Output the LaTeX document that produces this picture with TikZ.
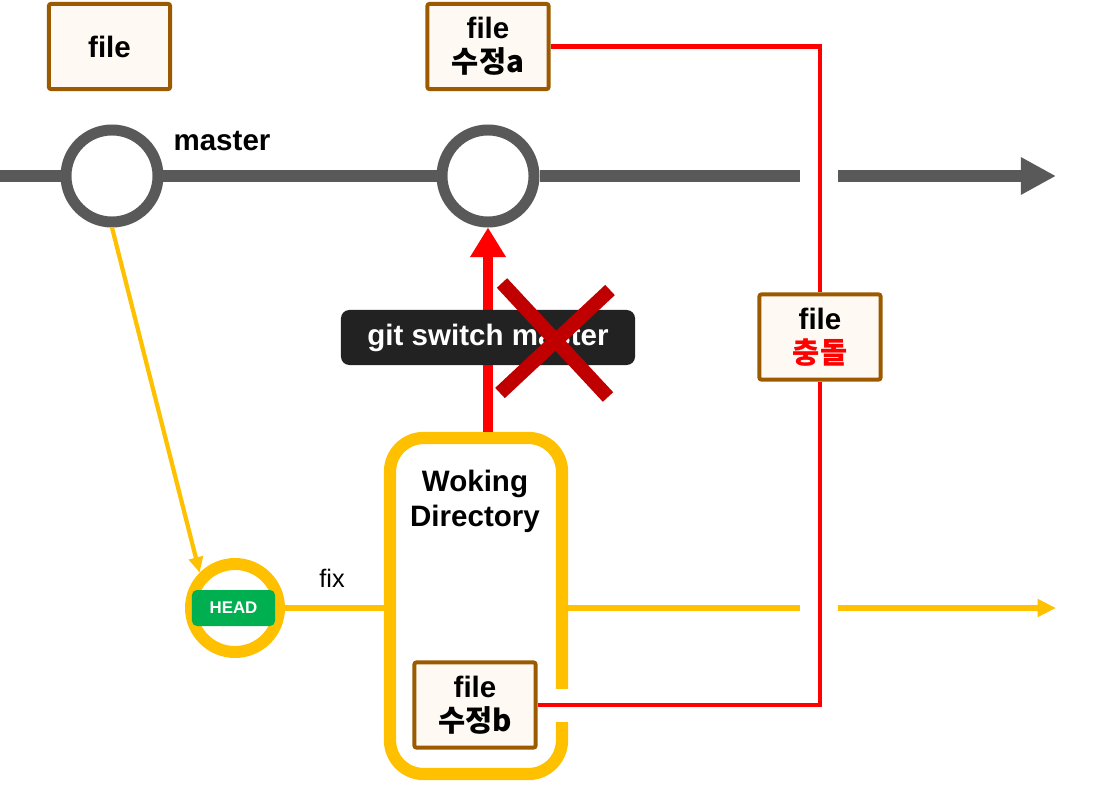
\documentclass[tikz,border=0pt]{standalone}
\usepackage{fontspec}
\setmainfont{Liberation Sans}
\newfontfamily\krfont{Noto Sans CJK KR}
\usetikzlibrary{arrows.meta, positioning, calc}
\definecolor{cmgray}{HTML}{595959}
\definecolor{fbrown}{HTML}{9C5A00}
\definecolor{fcream}{HTML}{FFF9F3}
\definecolor{conred}{HTML}{FF0000}
\definecolor{xred}{HTML}{C00000}
\definecolor{brgold}{HTML}{FFC000}
\definecolor{hdgreen}{HTML}{00B050}
\definecolor{cmdblack}{HTML}{222222}

\begin{document}
\begin{tikzpicture}[
  x=0.025cm, y=-0.025cm,
  filebox/.style={draw=fbrown, fill=fcream, line width=2.8pt, rounded corners=1.5pt,
    minimum width=3.03cm, minimum height=2.13cm, inner sep=0pt, align=center,
    font=\fontsize{21}{24.5}\selectfont\bfseries},
  commit/.style={circle, draw=cmgray, fill=white, line width=7.8pt,
    minimum size=2.3cm, inner sep=0pt},
]

% Canvas
\useasboundingbox (0,0) rectangle (1096,787);

% ========================================
% Files
% ========================================
\node[filebox] (file0) at (109.5,46.5) {file};
\node[filebox] (fileA) at (488,46.5) {file\\\krfont 수정a};
\node[filebox] (fileC) at (820,337) {file\\\krfont\color{conred}충돌};

% ========================================
% master branch
% ========================================
\node[commit] (c1) at (112,176) {};
\node[commit] (c2) at (488,176) {};
\node[font=\fontsize{21}{24}\selectfont\bfseries] (mlabel) at (222,141) {master};

\coordinate (mstart) at (0,176);
\coordinate (mgapL) at (800,176);
\coordinate (mgapR) at (838,176);
\coordinate (mend) at (1056,176);

\draw[cmgray, line width=8.5pt] (mstart) -- (c1) -- (c2) -- (mgapL);
\draw[cmgray, line width=8.5pt, -{Triangle[length=25pt, width=25pt]}] (mgapR) -- (mend);

% ========================================
% fix branch
% ========================================
\node[circle, draw=brgold, fill=white, line width=8.5pt, minimum size=2.2cm,
  inner sep=0pt] (headc) at (235,608) {};
\node[fill=hdgreen, rounded corners=3.5pt, minimum width=2.075cm, minimum height=0.9cm,
  inner sep=0pt, text=white, font=\fontsize{12}{14}\selectfont\bfseries]
  (headtag) at (233.5,608) {HEAD};
\node[font=\fontsize{18}{20}\selectfont] (fixlabel) at (332,578) {fix};

% Working directory
\node[draw=brgold, line width=8.7pt, rounded corners=24pt, minimum width=4.3cm,
  minimum height=8.4cm, inner sep=0pt] (wd) at (476,606) {};
\node[align=center, font=\fontsize{21}{25}\selectfont\bfseries] (wdlabel) at (475,501)
  {Woking\\Directory};
\node[filebox] (fileB) at (475,705) {file\\\krfont 수정b};
\fill[white] (554,689) rectangle (576,722);

\coordinate (ygapL) at (800,608);
\coordinate (ygapR) at (838,608);
\coordinate (yend) at (1056,608);

\draw[brgold, line width=3pt, -{Triangle[length=11pt, width=10pt]}] (c1.south) -- (headc.north west);
\draw[brgold, line width=4.3pt] (headc.east) -- (headc.east -| wd.west);
\draw[brgold, line width=4.3pt] (headc.east -| wd.east) -- (ygapL);
\draw[brgold, line width=4.3pt, -{Triangle[length=13pt, width=12pt]}] (ygapR) -- (yend);

% ========================================
% Conflict
% ========================================
\draw[conred, line width=3pt] (fileA.east) -| (fileC.north);
\draw[conred, line width=3pt] (fileC.south) |- (fileB.east);

% ========================================
% Blocked switch
% ========================================
\draw[conred, line width=7.8pt, -{Triangle[length=21pt, width=24pt]}]
  (wd.north -| c2) -- (c2.south);
\node[fill=cmdblack, rounded corners=6pt, minimum width=7.35cm, minimum height=1.375cm,
  inner sep=0pt, text=white, font=\fontsize{21}{24}\selectfont\bfseries]
  (cmd) at (488,337.5) {git switch master};

\coordinate (xmark) at (555,340);
\draw[xred, line width=10pt] (xmark) ++(-53,-57) -- ++(106,114);
\draw[xred, line width=10pt] (xmark) ++(55,-50) -- ++(-110,103);

\end{tikzpicture}
\end{document}
